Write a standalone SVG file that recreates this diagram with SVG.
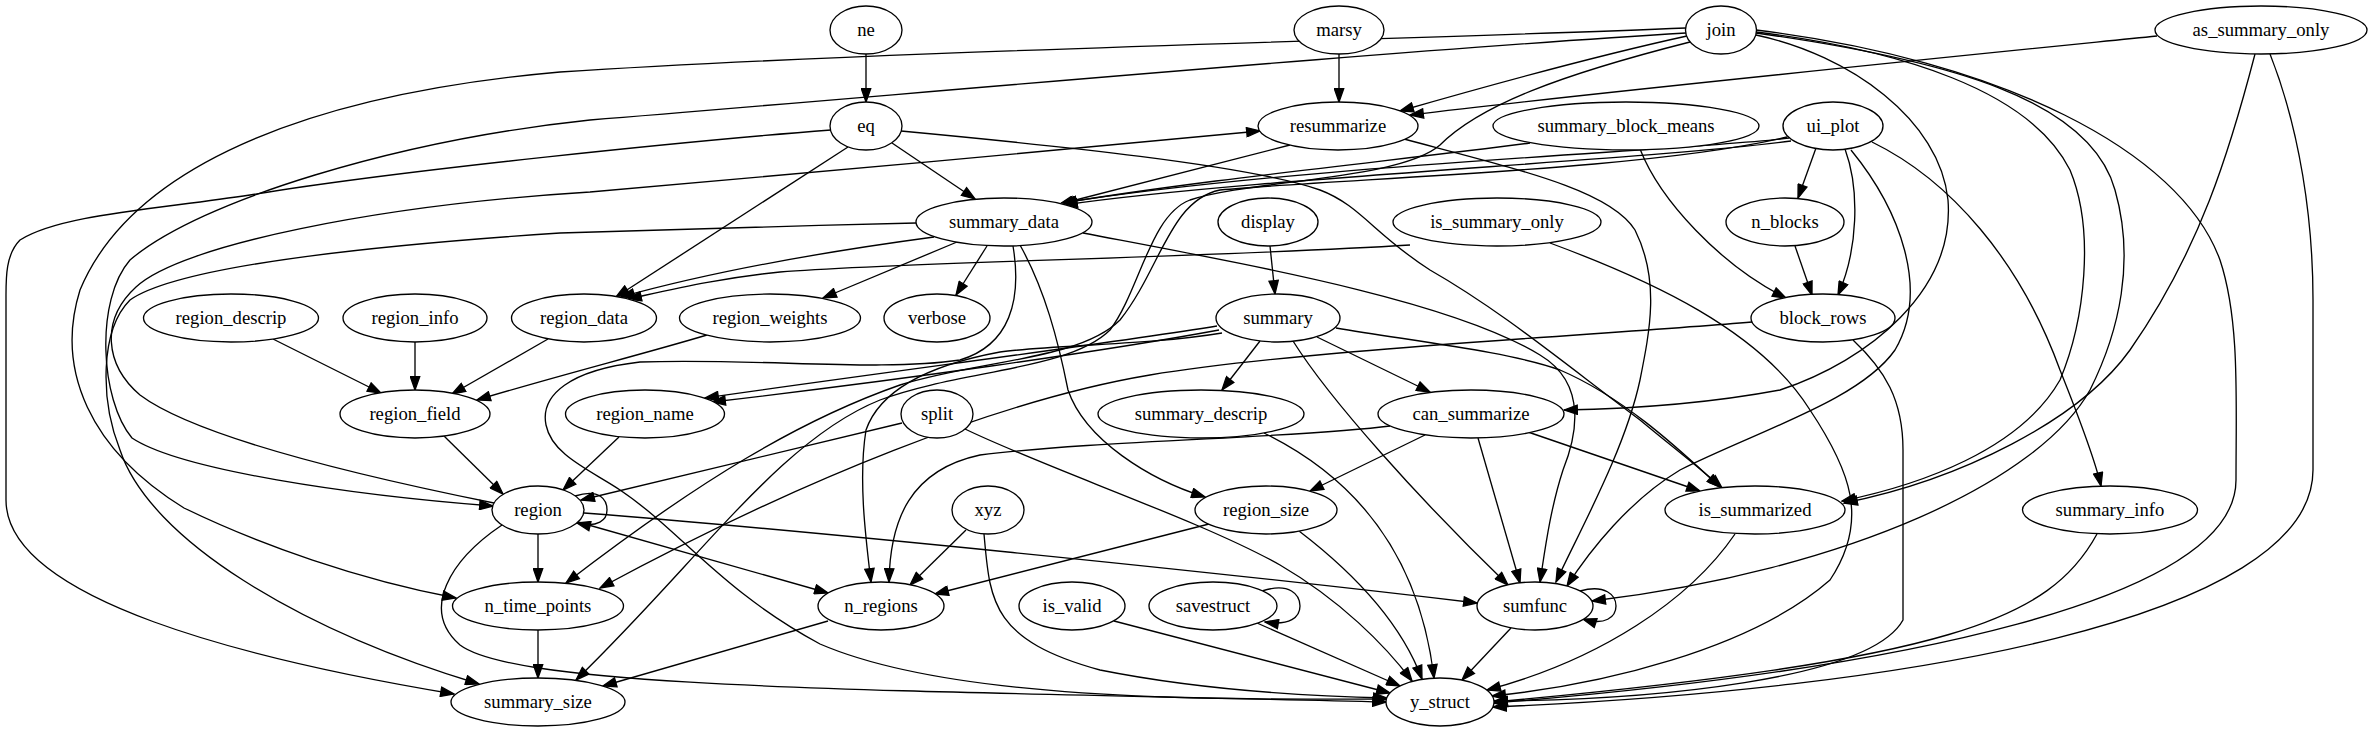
<svg xmlns="http://www.w3.org/2000/svg" width="2373" height="731" viewBox="0 0 2373 731" font-family="Liberation Serif, serif">
<style>
.node ellipse{fill:#fff;stroke:#000;stroke-width:1.33}
.node text{font-family:'Liberation Serif',serif;font-size:18.67px;text-anchor:middle;fill:#000}
#edges path{fill:none;stroke:#000;stroke-width:1.33;marker-end:url(#arr)}
</style>
<defs>
<marker id="arr" markerUnits="userSpaceOnUse" markerWidth="15" markerHeight="11" refX="13.3" refY="4.67" orient="auto" viewBox="-1 -1 15 11">
<path d="M0,0 L13.3,4.67 L0,9.33 z" fill="#000" stroke="#000" stroke-width="1.33"/>
</marker>
</defs>
<rect width="2373" height="731" fill="#fff"/>
<g id="edges">
<path d="M866,54 L866,102"/>
<path d="M1339,54 L1339,102"/>
<path d="M1687,36 C1600,55 1480,88 1400,111"/>
<path d="M2157,36 C1900,62 1600,92 1410,115"/>
<path d="M494,503 C380,480 200,440 140,395 C105,365 100,320 136,287 C180,245 380,205 590,192 C800,175 1050,150 1260,131"/>
<path d="M1686,28 C1400,40 900,50 560,72 C300,95 130,170 80,290 C55,370 90,450 184,508 C260,545 360,580 456,598"/>
<path d="M1686,33 C1400,50 900,95 590,120 C400,140 200,200 130,260 C95,300 100,400 132,438 C180,470 350,495 493,506"/>
<path d="M831,130 C700,140 400,170 250,195 C150,210 60,215 20,240 C5,255 6,280 6,300 L6,500 C6,600 250,660 454,694"/>
<path d="M916,223 C800,226 700,228 560,233 C380,245 180,265 130,300 C100,330 100,400 120,450 C150,540 300,630 479,684"/>
<path d="M892,143 L975,199"/>
<path d="M848,147 L616,297"/>
<path d="M901,131 C1050,145 1250,165 1320,190 C1360,205 1375,235 1430,270 C1500,310 1560,360 1640,420 C1670,445 1700,468 1722,488"/>
<path d="M1290,145 L1060,204"/>
<path d="M1404,139 C1520,170 1610,190 1635,230 C1660,280 1650,330 1640,380 C1625,450 1580,530 1556,582"/>
<path d="M1789,138 C1700,150 1300,165 1062,203"/>
<path d="M1791,141 C1650,160 1250,178 1064,205"/>
<path d="M1530,143 C1400,160 1200,180 1063,203"/>
<path d="M1640,149 C1660,200 1720,265 1786,298"/>
<path d="M1816,148 L1798,198"/>
<path d="M1795,246 L1812,295"/>
<path d="M1845,149 C1860,190 1858,250 1838,295"/>
<path d="M1872,142 C1950,180 2020,260 2060,370 C2080,420 2095,460 2101,486"/>
<path d="M1851,150 C1900,210 1930,290 1895,350 C1860,400 1760,430 1680,470 C1630,500 1590,550 1567,586"/>
<path d="M1756,35 C1850,55 1940,120 1948,200 C1955,290 1870,360 1780,390 C1700,405 1620,409 1564,410"/>
<path d="M1756,32 C1900,50 2030,90 2070,170 C2095,230 2085,320 2060,380 C2020,450 1920,485 1842,501"/>
<path d="M1756,33 C1950,60 2090,100 2115,190 C2135,260 2120,330 2090,390 C2040,480 1850,570 1592,601"/>
<path d="M1756,30 C2000,60 2180,150 2220,260 C2240,320 2236,400 2236,480 C2236,600 1900,670 1494,703"/>
<path d="M2255,54 C2230,150 2200,250 2130,350 C2080,420 1960,480 1844,503"/>
<path d="M2270,54 C2300,130 2313,220 2313,300 L2313,470 C2313,620 1900,690 1493,707"/>
<path d="M934,237 C800,255 700,275 621,297"/>
<path d="M1410,245 C1200,258 900,262 780,272 C720,278 670,290 628,299"/>
<path d="M957,242 L823,298"/>
<path d="M987,246 L956,295"/>
<path d="M1020,245 C1045,290 1058,340 1068,390 C1085,440 1150,480 1205,497"/>
<path d="M1083,233 C1250,265 1450,300 1540,355 C1590,385 1575,440 1563,470 C1550,510 1545,550 1540,582"/>
<path d="M1336,328 C1420,342 1510,352 1560,370 C1630,400 1690,460 1720,487"/>
<path d="M1013,246 C1022,300 1010,345 960,360 C880,372 760,358 640,362 C570,370 540,395 546,425 C552,455 590,470 620,490 C680,530 720,590 820,644 C950,700 1200,700 1387,699"/>
<path d="M1752,322 C1600,335 1300,350 1150,375 C1000,400 800,480 600,588"/>
<path d="M1787,137 C1650,170 1350,178 1220,190 C1170,200 1160,270 1120,320 C1080,360 980,360 900,385 C800,420 700,480 566,583"/>
<path d="M1690,42 C1560,75 1480,105 1440,145 C1400,180 1250,180 1190,200 C1150,215 1140,290 1110,330 C1070,370 960,370 880,400 C780,440 700,560 576,680"/>
<path d="M1217,326 C1100,345 900,370 705,398"/>
<path d="M1219,330 C1100,352 900,380 712,402"/>
<path d="M1222,333 C1150,345 1050,345 1000,352 C930,365 880,390 866,430 C858,480 866,540 871,582"/>
<path d="M1550,243 C1650,280 1760,330 1810,410 C1850,470 1870,520 1830,580 C1750,650 1600,685 1492,696"/>
<path d="M1853,340 C1885,370 1903,400 1903,450 L1903,620 C1870,680 1650,700 1494,701"/>
<path d="M1735,534 C1690,600 1600,660 1487,690"/>
<path d="M2097,534 C2050,620 1950,660 1494,702"/>
<path d="M1270,246 L1275,294"/>
<path d="M1260,341 L1222,390"/>
<path d="M1317,337 L1430,392"/>
<path d="M1293,341 C1330,400 1420,500 1508,585"/>
<path d="M273,339 L381,393"/>
<path d="M415,342 L415,390"/>
<path d="M548,339 L452,394"/>
<path d="M707,335 C640,355 560,375 477,400"/>
<path d="M444,436 L503,494"/>
<path d="M619,437 L563,490"/>
<path d="M902,423 L581,500"/>
<path d="M575,496 C600,488 607,500 607,510 C607,520 598,528 577,523"/>
<path d="M965,429 C1050,470 1200,520 1280,565 C1340,600 1385,645 1412,681"/>
<path d="M538,534 L538,582"/>
<path d="M578,522 L828,593"/>
<path d="M584,513 C800,530 1200,570 1477,603"/>
<path d="M502,525 C450,560 420,610 460,645 C520,690 900,690 1386,702"/>
<path d="M538,630 L538,678"/>
<path d="M828,621 L603,686"/>
<path d="M966,530 L910,585"/>
<path d="M984,534 C990,600 990,640 1100,670 C1200,690 1300,696 1387,698"/>
<path d="M1425,435 L1310,491"/>
<path d="M1478,438 L1520,583"/>
<path d="M1528,432 L1700,491"/>
<path d="M1390,426 C1300,438 1100,440 980,455 C910,470 890,520 889,582"/>
<path d="M1209,524 L935,594"/>
<path d="M1299,531 C1350,570 1400,620 1422,679"/>
<path d="M1264,433 C1360,480 1420,560 1434,678"/>
<path d="M1114,621 L1390,693"/>
<path d="M1262,591 C1290,582 1300,595 1300,606 C1300,617 1290,626 1265,622"/>
<path d="M1257,623 L1400,686"/>
<path d="M1580,591 C1605,584 1616,595 1616,606 C1616,617 1605,626 1583,619"/>
<path d="M1511,628 L1462,680"/>
</g>
<g id="node-ne" class="node"><ellipse cx="866" cy="30" rx="36" ry="24"/><text x="866" y="36">ne</text></g>
<g id="node-marsy" class="node"><ellipse cx="1339" cy="30" rx="45" ry="24"/><text x="1339" y="36">marsy</text></g>
<g id="node-join" class="node"><ellipse cx="1721" cy="30" rx="35.5" ry="24"/><text x="1721" y="36">join</text></g>
<g id="node-as_summary_only" class="node"><ellipse cx="2261" cy="30" rx="106" ry="24"/><text x="2261" y="36">as_summary_only</text></g>
<g id="node-eq" class="node"><ellipse cx="866" cy="126" rx="36" ry="24"/><text x="866" y="132">eq</text></g>
<g id="node-resummarize" class="node"><ellipse cx="1338" cy="126" rx="80" ry="24"/><text x="1338" y="132">resummarize</text></g>
<g id="node-summary_block_means" class="node"><ellipse cx="1626" cy="126" rx="133" ry="24"/><text x="1626" y="132">summary_block_means</text></g>
<g id="node-ui_plot" class="node"><ellipse cx="1833" cy="126" rx="50" ry="24"/><text x="1833" y="132">ui_plot</text></g>
<g id="node-summary_data" class="node"><ellipse cx="1004" cy="222" rx="88" ry="24"/><text x="1004" y="228">summary_data</text></g>
<g id="node-display" class="node"><ellipse cx="1268" cy="222" rx="50" ry="24"/><text x="1268" y="228">display</text></g>
<g id="node-is_summary_only" class="node"><ellipse cx="1497" cy="222" rx="104" ry="24"/><text x="1497" y="228">is_summary_only</text></g>
<g id="node-n_blocks" class="node"><ellipse cx="1785" cy="222" rx="59" ry="24"/><text x="1785" y="228">n_blocks</text></g>
<g id="node-region_descrip" class="node"><ellipse cx="231" cy="318" rx="87.5" ry="24"/><text x="231" y="324">region_descrip</text></g>
<g id="node-region_info" class="node"><ellipse cx="415" cy="318" rx="72" ry="24"/><text x="415" y="324">region_info</text></g>
<g id="node-region_data" class="node"><ellipse cx="584" cy="318" rx="72.5" ry="24"/><text x="584" y="324">region_data</text></g>
<g id="node-region_weights" class="node"><ellipse cx="770" cy="318" rx="90.5" ry="24"/><text x="770" y="324">region_weights</text></g>
<g id="node-verbose" class="node"><ellipse cx="937" cy="318" rx="53" ry="24"/><text x="937" y="324">verbose</text></g>
<g id="node-summary" class="node"><ellipse cx="1278" cy="318" rx="62" ry="24"/><text x="1278" y="324">summary</text></g>
<g id="node-block_rows" class="node"><ellipse cx="1823" cy="318" rx="72" ry="24"/><text x="1823" y="324">block_rows</text></g>
<g id="node-region_field" class="node"><ellipse cx="415" cy="414" rx="75" ry="24"/><text x="415" y="420">region_field</text></g>
<g id="node-region_name" class="node"><ellipse cx="645" cy="414" rx="79.5" ry="24"/><text x="645" y="420">region_name</text></g>
<g id="node-split" class="node"><ellipse cx="937" cy="414" rx="36" ry="24"/><text x="937" y="420">split</text></g>
<g id="node-summary_descrip" class="node"><ellipse cx="1201" cy="414" rx="103" ry="24"/><text x="1201" y="420">summary_descrip</text></g>
<g id="node-can_summarize" class="node"><ellipse cx="1471" cy="414" rx="93" ry="24"/><text x="1471" y="420">can_summarize</text></g>
<g id="node-region" class="node"><ellipse cx="538" cy="510" rx="46" ry="24"/><text x="538" y="516">region</text></g>
<g id="node-xyz" class="node"><ellipse cx="988" cy="510" rx="36" ry="24"/><text x="988" y="516">xyz</text></g>
<g id="node-region_size" class="node"><ellipse cx="1266" cy="510" rx="71" ry="24"/><text x="1266" y="516">region_size</text></g>
<g id="node-is_summarized" class="node"><ellipse cx="1755" cy="510" rx="90" ry="24"/><text x="1755" y="516">is_summarized</text></g>
<g id="node-summary_info" class="node"><ellipse cx="2110" cy="510" rx="87.5" ry="24"/><text x="2110" y="516">summary_info</text></g>
<g id="node-n_time_points" class="node"><ellipse cx="538" cy="606" rx="85.5" ry="24"/><text x="538" y="612">n_time_points</text></g>
<g id="node-n_regions" class="node"><ellipse cx="881" cy="606" rx="63" ry="24"/><text x="881" y="612">n_regions</text></g>
<g id="node-is_valid" class="node"><ellipse cx="1072" cy="606" rx="53" ry="24"/><text x="1072" y="612">is_valid</text></g>
<g id="node-savestruct" class="node"><ellipse cx="1213" cy="606" rx="64" ry="24"/><text x="1213" y="612">savestruct</text></g>
<g id="node-sumfunc" class="node"><ellipse cx="1535" cy="606" rx="58" ry="24"/><text x="1535" y="612">sumfunc</text></g>
<g id="node-summary_size" class="node"><ellipse cx="538" cy="702" rx="87" ry="24"/><text x="538" y="708">summary_size</text></g>
<g id="node-y_struct" class="node"><ellipse cx="1440" cy="702" rx="54" ry="24"/><text x="1440" y="708">y_struct</text></g>
</svg>
